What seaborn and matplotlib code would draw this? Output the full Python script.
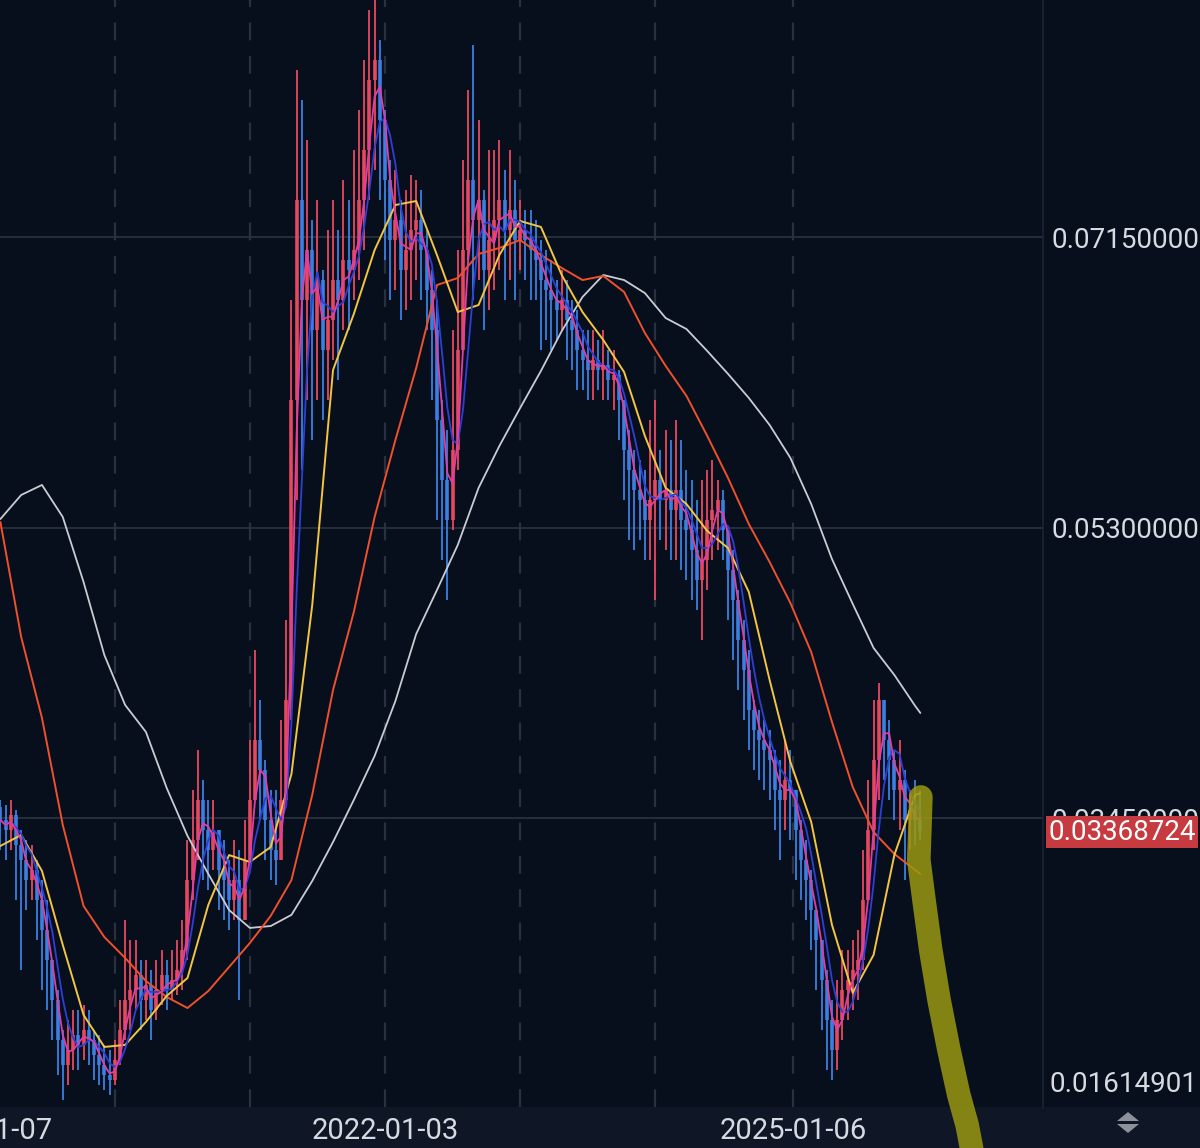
"""
Weekly price chart with moving averages, dark trading-app look.
Writes out.png (1200x1148).
"""

import numpy as np
import pandas as pd
import matplotlib
matplotlib.use("Agg")
import matplotlib.pyplot as plt
from matplotlib.patches import Rectangle, Polygon
import seaborn as sns

# ---- data ---------------------------------------------------------------
START = "2019-03-04"
STEP_DAYS = 14
OPEN0 = 0.0352

CLOSE = [
    0.03437, 0.03374, 0.03469, 0.03278, 0.03183, 0.03055, 0.03119, 0.02928, 0.02737, 0.02546,
    0.02291, 0.02036, 0.01877, 0.01973, 0.02068, 0.02005, 0.02100, 0.02036, 0.01941, 0.01877,
    0.01813, 0.01782, 0.01909, 0.02100, 0.02291, 0.02355, 0.02450, 0.02291, 0.02387, 0.02228,
    0.02355, 0.02450, 0.02355, 0.02419, 0.02482, 0.02610, 0.03055, 0.03310, 0.03565, 0.03374,
    0.03246, 0.03374, 0.03119, 0.03055, 0.02928, 0.03055, 0.02801, 0.03183, 0.03565, 0.03947,
    0.03756, 0.03437, 0.03246, 0.03183, 0.03565, 0.04202, 0.06112, 0.07386, 0.06749, 0.07067,
    0.06558, 0.06876, 0.06430, 0.06621, 0.06876, 0.06749, 0.07004, 0.06940, 0.07067, 0.07386,
    0.07704, 0.08150, 0.08277, 0.07895, 0.07513, 0.07131, 0.07258, 0.06940, 0.07067, 0.07195,
    0.07258, 0.07067, 0.06812, 0.06558, 0.05985, 0.05603, 0.05348, 0.05794, 0.06430, 0.07067,
    0.07513, 0.07258, 0.07386, 0.06940, 0.07131, 0.07258, 0.07386, 0.07195, 0.07322, 0.07131,
    0.07195, 0.07131, 0.07067, 0.07004, 0.06876, 0.06812, 0.06749, 0.06685, 0.06749, 0.06621,
    0.06558, 0.06430, 0.06367, 0.06303, 0.06367, 0.06303, 0.06335, 0.06239, 0.06271, 0.06112,
    0.05794, 0.05666, 0.05539, 0.05475, 0.05348, 0.05475, 0.05603, 0.05475, 0.05539, 0.05411,
    0.05539, 0.05348, 0.05284, 0.05157, 0.04966, 0.05093, 0.05348, 0.05411, 0.05475, 0.05284,
    0.05029, 0.04838, 0.04584, 0.04393, 0.04138, 0.04010, 0.03947, 0.03883, 0.03819, 0.03628,
    0.03565, 0.03692, 0.03628, 0.03374, 0.03183, 0.03055, 0.02864, 0.02673, 0.02419, 0.02164,
    0.01973, 0.02164, 0.02355, 0.02419, 0.02482, 0.02546, 0.02928, 0.03374, 0.03819, 0.04202,
    0.03947, 0.03819, 0.03628, 0.03692, 0.03437, 0.03501, 0.03437, 0.03368724,
]

HIGH = [
    0.03565, 0.03533, 0.03565, 0.03501, 0.03374, 0.03310, 0.03278, 0.03183, 0.03055, 0.02928,
    0.02546, 0.02355, 0.02100, 0.02164, 0.02228, 0.02228, 0.02260, 0.02228, 0.02100, 0.02068,
    0.02005, 0.01973, 0.02036, 0.02291, 0.02801, 0.02673, 0.02673, 0.02546, 0.02546, 0.02482,
    0.02546, 0.02610, 0.02546, 0.02610, 0.02673, 0.02801, 0.03310, 0.03628, 0.03883, 0.03692,
    0.03565, 0.03565, 0.03374, 0.03310, 0.03183, 0.03310, 0.03246, 0.03437, 0.03947, 0.04520,
    0.04202, 0.03819, 0.03628, 0.03628, 0.04074, 0.04711, 0.06749, 0.08213, 0.08022, 0.07768,
    0.07258, 0.07386, 0.06940, 0.07195, 0.07386, 0.07195, 0.07513, 0.07386, 0.07704, 0.07959,
    0.08277, 0.08596, 0.08659, 0.08405, 0.07959, 0.07640, 0.07577, 0.07386, 0.07449, 0.07545,
    0.07513, 0.07449, 0.07195, 0.06940, 0.06749, 0.06112, 0.05921, 0.06558, 0.07067, 0.07640,
    0.08086, 0.08373, 0.07895, 0.07449, 0.07704, 0.07704, 0.07768, 0.07577, 0.07704, 0.07513,
    0.07386, 0.07322, 0.07322, 0.07258, 0.07131, 0.07067, 0.07004, 0.06876, 0.06940, 0.06876,
    0.06749, 0.06685, 0.06558, 0.06558, 0.06558, 0.06494, 0.06558, 0.06430, 0.06430, 0.06303,
    0.06112, 0.05921, 0.05794, 0.05730, 0.05666, 0.05985, 0.06112, 0.05794, 0.05921, 0.05857,
    0.05985, 0.05857, 0.05666, 0.05603, 0.05475, 0.05603, 0.05666, 0.05730, 0.05603, 0.05539,
    0.05284, 0.05157, 0.04902, 0.04711, 0.04520, 0.04202, 0.04138, 0.04074, 0.04010, 0.03883,
    0.03819, 0.03947, 0.03883, 0.03628, 0.03437, 0.03310, 0.03119, 0.02864, 0.02673, 0.02482,
    0.02291, 0.02419, 0.02610, 0.02610, 0.02673, 0.02737, 0.03246, 0.03692, 0.04202, 0.04310,
    0.04202, 0.04074, 0.03883, 0.03947, 0.03756, 0.03628, 0.03692, 0.03628,
]

LOW = [
    0.03246, 0.03183, 0.03246, 0.02928, 0.02482, 0.02864, 0.02928, 0.02673, 0.02355, 0.02228,
    0.02036, 0.01813, 0.01654, 0.01750, 0.01845, 0.01845, 0.01909, 0.01877, 0.01782, 0.01750,
    0.01718, 0.01686, 0.01750, 0.01877, 0.02036, 0.02100, 0.02228, 0.02100, 0.02164, 0.02036,
    0.02164, 0.02260, 0.02228, 0.02291, 0.02323, 0.02355, 0.02546, 0.02928, 0.03183, 0.03055,
    0.02992, 0.03119, 0.02864, 0.02801, 0.02737, 0.02801, 0.02291, 0.02928, 0.03310, 0.03565,
    0.03437, 0.03183, 0.03055, 0.03024, 0.03183, 0.03565, 0.04074, 0.05475, 0.05666, 0.06112,
    0.05857, 0.06112, 0.05985, 0.06112, 0.06367, 0.06239, 0.06558, 0.06558, 0.06749, 0.06876,
    0.07067, 0.07386, 0.07577, 0.07386, 0.07004, 0.06749, 0.06812, 0.06621, 0.06685, 0.06749,
    0.06876, 0.06749, 0.06558, 0.06112, 0.05348, 0.05093, 0.04838, 0.05284, 0.05666, 0.06430,
    0.07004, 0.06749, 0.06876, 0.06558, 0.06685, 0.06812, 0.06940, 0.06749, 0.06876, 0.06749,
    0.06940, 0.06876, 0.06749, 0.06749, 0.06430, 0.06494, 0.06430, 0.06494, 0.06558, 0.06367,
    0.06303, 0.06176, 0.06176, 0.06112, 0.06112, 0.06176, 0.06112, 0.06112, 0.06048, 0.05857,
    0.05475, 0.05220, 0.05157, 0.05220, 0.05093, 0.05093, 0.04838, 0.05220, 0.05157, 0.05093,
    0.05093, 0.05029, 0.04966, 0.04838, 0.04775, 0.04584, 0.04902, 0.05093, 0.05157, 0.05093,
    0.04711, 0.04456, 0.04265, 0.04074, 0.03883, 0.03756, 0.03692, 0.03628, 0.03565, 0.03374,
    0.03183, 0.03374, 0.03310, 0.03055, 0.02928, 0.02801, 0.02610, 0.02355, 0.02100, 0.01845,
    0.01782, 0.01845, 0.02036, 0.02164, 0.02228, 0.02291, 0.02482, 0.02928, 0.03246, 0.03565,
    0.03692, 0.03565, 0.03437, 0.03374, 0.03055, 0.03246, 0.03278, 0.03310,
]

# long moving averages, sampled every 4th candle (last point = last candle)
MA_IDX = list(range(0, 177, 4)) + [177]
MA_SLOW = [  # white
    0.05354, 0.05507, 0.05571, 0.05367, 0.04953, 0.04488, 0.04170, 0.03998, 0.03641, 0.03336,
    0.03094, 0.02864, 0.02750, 0.02762, 0.02833, 0.03049, 0.03297, 0.03565, 0.03845, 0.04195,
    0.04622, 0.04902, 0.05189, 0.05552, 0.05819, 0.06061, 0.06297, 0.06551, 0.06768, 0.06908,
    0.06876, 0.06793, 0.06634, 0.06564, 0.06424, 0.06278, 0.06125, 0.05953, 0.05743, 0.05450,
    0.05099, 0.04813, 0.04533, 0.04361, 0.04164, 0.04119,
]
MA_MID = [  # red
    0.05335, 0.04603, 0.04087, 0.03406, 0.02890, 0.02692, 0.02559, 0.02412, 0.02310, 0.02240,
    0.02348, 0.02501, 0.02654, 0.02826, 0.03055, 0.03597, 0.04265, 0.04762, 0.05367, 0.05857,
    0.06316, 0.06844, 0.06889, 0.07042, 0.07080, 0.07131, 0.07035, 0.06953, 0.06876, 0.06902,
    0.06800, 0.06539, 0.06329, 0.06138, 0.05883, 0.05615, 0.05322, 0.05080, 0.04819, 0.04507,
    0.04061, 0.03647, 0.03361, 0.03221, 0.03119, 0.03094,
]
MA_FAST = [  # yellow
    0.03272, 0.03342, 0.03113, 0.02642, 0.02196, 0.01992, 0.02005, 0.02151, 0.02317, 0.02431,
    0.02896, 0.03214, 0.03170, 0.03265, 0.03730, 0.04806, 0.06303, 0.06660, 0.07067, 0.07354,
    0.07379, 0.07035, 0.06672, 0.06717, 0.07035, 0.07252, 0.07214, 0.06908, 0.06672, 0.06494,
    0.06290, 0.05883, 0.05552, 0.05450, 0.05278, 0.05169, 0.04889, 0.04329, 0.03807, 0.03425,
    0.02769, 0.02336, 0.02578, 0.03214, 0.03597, 0.03609,
]

# hand-drawn highlighter stroke (position in candle steps, price)
MARK_IDX = [177.1, 176.9, 176.7, 177.7, 179.0, 180.6, 182.5, 184.4, 186.0, 187.3]
MARK_PRICE = [0.03584, 0.03374, 0.03183, 0.02928, 0.02610, 0.02291, 0.01973, 0.01686, 0.01495, 0.01272]

YEAR_TICKS = ["2019-01-07", "2020-01-06", "2021-01-04", "2022-01-03",
              "2023-01-02", "2024-01-01", "2025-01-06"]
YEAR_LABELS = ["2019-01-07", "", "", "2022-01-03", "", "", "2025-01-06"]
PRICE_TICKS = [0.0715, 0.053, 0.0345]
LAST_PRICE = 0.03368724
AXIS_MIN = 0.01614901

# ---- style ---------------------------------------------------------------
BG = "#070f1c"
STRIP = "#0f1727"
GRID = "#29313f"
TEXT = "#d6dae1"
UP = "#e8485f"
DOWN = "#3b7fe3"

sns.set_theme(style="dark", rc={"axes.facecolor": BG, "figure.facecolor": BG})
plt.rcParams["font.family"] = ["Roboto", "DejaVu Sans"]


def candle_dates(idx):
    return pd.Timestamp(START) + pd.to_timedelta(np.asarray(idx, dtype=float) * STEP_DAYS, unit="D")


def main():
    n = len(CLOSE)
    dates = candle_dates(np.arange(n))
    close = np.array(CLOSE)
    opens = np.r_[OPEN0, close[:-1]]
    colors = np.where(close >= opens, UP, DOWN)

    fig = plt.figure(figsize=(12, 11.48), dpi=100)
    fig.patches.append(Rectangle((0, 0), 1, 41 / 1148, transform=fig.transFigure,
                                 facecolor=STRIP, edgecolor="none", zorder=-1))
    ax = fig.add_axes([-60 / 1200, 41 / 1148, 1103 / 1200, 1107 / 1148])

    # axis ranges: 2022-01-03 sits at x=385px, 0.37125 px per day
    ref = pd.Timestamp("2022-01-03")
    px_day = 408 / 1099
    ax.set_xlim(ref - pd.Timedelta(days=445 / px_day), ref + pd.Timedelta(days=658 / px_day))
    ax.set_ylim(0.016096, 0.086593)

    # candles
    ax.vlines(dates, LOW, HIGH, colors=colors, lw=1.3, zorder=3)
    ax.vlines(dates, opens, close, colors=colors, lw=2.6, zorder=3)

    # moving averages
    ma_dates = candle_dates(MA_IDX)
    sns.lineplot(x=ma_dates, y=MA_SLOW, ax=ax, color="#c9cdd3", lw=1.3, zorder=4)
    sns.lineplot(x=ma_dates, y=MA_MID, ax=ax, color="#f0502c", lw=1.4, zorder=4)
    sns.lineplot(x=ma_dates, y=MA_FAST, ax=ax, color="#f4c542", lw=1.4, zorder=4)
    s = pd.Series(close)
    sns.lineplot(x=dates, y=s.rolling(5, min_periods=1).mean(), ax=ax,
                 color="#2d3fd6", lw=1.3, zorder=4)
    sns.lineplot(x=dates, y=s.rolling(3, min_periods=1).mean(), ax=ax,
                 color="#e03ea6", lw=1.3, zorder=4)

    # highlighter stroke
    ax.plot(candle_dates(MARK_IDX), MARK_PRICE, color="#9a9812", lw=17, alpha=0.85,
            solid_capstyle="round", solid_joinstyle="round", clip_on=False, zorder=6)

    # grid + ticks
    ax.set_xticks(pd.to_datetime(YEAR_TICKS))
    ax.set_xticklabels(YEAR_LABELS)
    ax.yaxis.tick_right()
    ax.set_yticks(PRICE_TICKS)
    ax.set_yticklabels([f"{v:.8f}" for v in PRICE_TICKS])
    ax.tick_params(axis="y", length=0, pad=6, labelsize=20, labelcolor=TEXT)
    ax.tick_params(axis="x", length=0, pad=7, labelsize=21, labelcolor=TEXT)
    ax.grid(axis="y", color=GRID, lw=1.3, ls="-")
    ax.grid(axis="x", color=GRID, lw=1.6, ls=(0, (8, 7)))
    ax.set_xlabel("")
    ax.set_ylabel("")
    for side in ["top", "left", "bottom"]:
        ax.spines[side].set_visible(False)
    ax.spines["right"].set_color("#1c2431")
    ax.spines["right"].set_linewidth(1.2)

    # bottom price label and last price tag
    ax.annotate(f"{AXIS_MIN:.8f}", xy=(1, 0), xycoords="axes fraction",
                xytext=(5, 16), textcoords="offset points", va="center", ha="left",
                fontsize=20, color=TEXT, annotation_clip=False)
    ax.annotate(f"{LAST_PRICE:.8f}", xy=(1, LAST_PRICE), xycoords=("axes fraction", "data"),
                xytext=(4, -1), textcoords="offset points", va="center", ha="left",
                fontsize=20, color="white", annotation_clip=False, zorder=10,
                bbox=dict(boxstyle="square,pad=0.08", fc="#c63a40", ec="none"))

    # scale toggle icon in the corner
    gray = "#8c919b"
    fig.patches.append(Polygon([(1117 / 1200, 1 - 1121 / 1148), (1139 / 1200, 1 - 1121 / 1148),
                                (1128 / 1200, 1 - 1112 / 1148)], closed=True,
                               transform=fig.transFigure, fc=gray, ec="none"))
    fig.patches.append(Polygon([(1117 / 1200, 1 - 1124 / 1148), (1139 / 1200, 1 - 1124 / 1148),
                                (1128 / 1200, 1 - 1133 / 1148)], closed=True,
                               transform=fig.transFigure, fc=gray, ec="none"))

    fig.savefig("out.png", dpi=100, facecolor=BG)
    plt.close(fig)


if __name__ == "__main__":
    main()
